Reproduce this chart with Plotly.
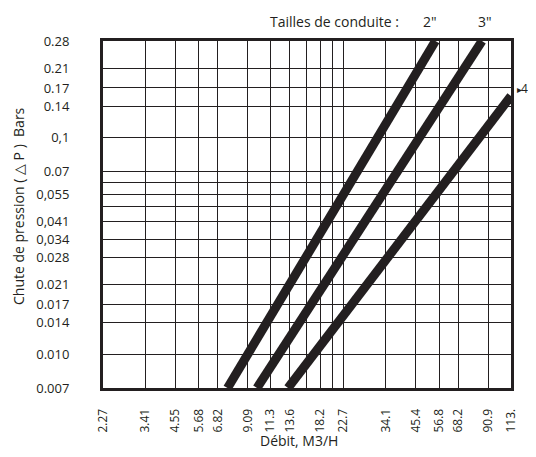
import math
import plotly.graph_objects as go

# ---- data ----
flow_ticks = [2.27, 3.41, 4.55, 5.68, 6.82, 9.09, 11.3, 13.6, 18.2, 22.7,
              34.1, 45.4, 56.8, 68.2, 90.9, 113]
flow_labels = ["2.27", "3.41", "4.55", "5.68", "6.82", "9.09", "11.3", "13.6",
               "18.2", "22.7", "34.1", "45.4", "56.8", "68.2", "90.9", "113."]
flow_minor = [15.9, 20.4]

dp_ticks = [0.007, 0.010, 0.014, 0.017, 0.021, 0.028, 0.034, 0.041, 0.055,
            0.07, 0.1, 0.14, 0.17, 0.21, 0.28]
dp_labels = ["0.007", "0.010", "0.014", "0.017", "0.021", "0.028", "0,034",
             "0,041", "0,055", "0.07", "0,1", "0.14", "0.17", "0.21", "0.28"]
dp_minor = [0.048, 0.062]

pipe_sizes = ['2"', '3"', '4"']
flow_2 = [7.48, 54.8]
dp_2 = [0.007, 0.28]
flow_3 = [9.92, 85.6]
dp_3 = [0.007, 0.28]
flow_4 = [13.35, 113]
dp_4 = [0.007, 0.156]

INK = "#231f20"
FONT = "Open Sans"

fig = go.Figure()
for name, xs, ys in zip(pipe_sizes, [flow_2, flow_3, flow_4], [dp_2, dp_3, dp_4]):
    fig.add_trace(go.Scatter(x=xs, y=ys, mode="lines", name=name,
                             line=dict(color=INK, width=9),
                             showlegend=False, hoverinfo="x+y+name"))

eps = 1e-5
fig.update_xaxes(
    type="log",
    range=[math.log10(flow_ticks[0]) - eps, math.log10(flow_ticks[-1]) + eps],
    tickmode="array", tickvals=flow_ticks, ticktext=flow_labels,
    tickangle=-90, ticks="", ticklabelstandoff=13,
    tickfont=dict(family=FONT, size=12, color=INK),
    showgrid=True, gridcolor=INK, gridwidth=1,
    minor=dict(tickmode="array", tickvals=flow_minor, showgrid=True,
               gridcolor=INK, gridwidth=1, ticks=""),
    showline=True, mirror=True, linecolor=INK, linewidth=3,
    zeroline=False,
)
fig.update_yaxes(
    type="log",
    range=[math.log10(dp_ticks[0]) - eps, math.log10(dp_ticks[-1]) + eps],
    tickmode="array", tickvals=dp_ticks, ticktext=dp_labels,
    ticks="", ticklabelstandoff=28,
    tickfont=dict(family=FONT, size=13, color=INK),
    showgrid=True, gridcolor=INK, gridwidth=1,
    minor=dict(tickmode="array", tickvals=dp_minor, showgrid=True,
               gridcolor=INK, gridwidth=1, ticks=""),
    showline=True, mirror=True, linecolor=INK, linewidth=3,
    zeroline=False,
)

# page body has an 8px default margin: compensate so the plot lands where the reference has it
OFF = 8
L, R, T, B = 103 - OFF, 25, 41 - OFF, 61
W, H = 536 - OFF, 457 - 2 * OFF
pw, ph = W - L - R, H - T - B

def px_x(p):
    return (p - OFF - L) / pw

def px_y(p):
    return (H - B - (p - OFF)) / ph

ann = []
ann.append(dict(text="Tailles de conduite :", x=px_x(268), y=px_y(21), xref="paper", yref="paper",
                xanchor="left", yanchor="middle", showarrow=False,
                font=dict(family=FONT, size=14, color=INK)))
ann.append(dict(text=pipe_sizes[0], x=px_x(430), y=px_y(21), xref="paper", yref="paper",
                xanchor="center", yanchor="middle", showarrow=False,
                font=dict(family=FONT, size=14, color=INK)))
ann.append(dict(text=pipe_sizes[1], x=px_x(485), y=px_y(21), xref="paper", yref="paper",
                xanchor="center", yanchor="middle", showarrow=False,
                font=dict(family=FONT, size=14, color=INK)))
ann.append(dict(text="▸", x=px_x(520), y=px_y(89), xref="paper", yref="paper",
                xanchor="center", yanchor="middle", showarrow=False,
                font=dict(family="DejaVu Sans", size=10, color=INK)))
ann.append(dict(text=pipe_sizes[2], x=px_x(534), y=px_y(88), xref="paper", yref="paper",
                xanchor="right", yanchor="middle", showarrow=False, borderpad=0,
                font=dict(family=FONT, size=12, color=INK)))
ann.append(dict(text="Débit, M3/H", x=px_x(299), y=px_y(440), xref="paper", yref="paper",
                xanchor="center", yanchor="middle", showarrow=False,
                font=dict(family=FONT, size=14, color=INK)))
ann.append(dict(text="Chute de pression ( △ P )  Bars", x=px_x(18), y=px_y(206),
                xref="paper", yref="paper", textangle=-90,
                xanchor="center", yanchor="middle", showarrow=False,
                font=dict(family=FONT, size=14, color=INK)))

fig.update_layout(
    width=W, height=H,
    margin=dict(l=L, r=R, t=T, b=B),
    paper_bgcolor="white", plot_bgcolor="white",
    annotations=ann,
    showlegend=False,
)

fig.write_html("out.html")
